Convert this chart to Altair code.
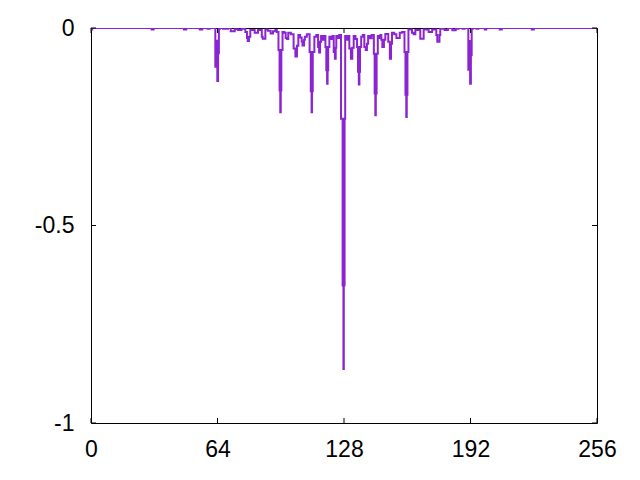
import altair as alt
import pandas as pd

# Step-after breakpoints of the curve (x, value held until next x)
xs = [0, 0.6, 30.7, 31.7, 47.0, 48.2, 55.0, 56.3, 59.0, 60.0,
      62.9, 63.4, 63.9, 64.3, 64.7, 65.2, 66.8, 67.6, 68.5, 69.3,
      70.7, 72.7, 74.4, 76.1, 78.1, 78.9, 79.3, 79.9, 80.6, 82.8,
      84.5, 86.4, 86.9, 88.2, 89.5, 90.9, 92.1, 93.3, 94.0,
      94.85, 95.4, 95.75, 96.0, 96.3, 96.9, 97.8, 98.5, 99.2, 99.8,
      101.1, 102.5, 103.4, 104.2, 104.9, 105.8, 106.6, 107.0, 107.8, 108.2,
      109.2, 110.6, 111.2, 111.6, 111.8, 112.2, 113.0, 114.0, 114.9, 115.4,
      115.9, 116.4, 117.2, 117.8, 118.6, 119.05, 119.45, 119.7, 120.0, 120.6,
      121.5, 122.2, 122.8, 123.4, 123.8, 124.1, 125.0, 125.6,
      126.5, 127.3, 127.7, 127.9, 128.3, 128.6, 129.5, 130.0,
      130.7, 131.5, 132.2, 132.9, 133.8, 134.6, 135.1, 135.5, 135.8, 136.1,
      136.7, 137.5, 138.3, 139.0, 139.6, 140.2, 141.2, 142.0,
      143.1, 143.5, 143.85, 144.1, 144.5, 145.1, 145.6, 146.4, 146.9, 147.4,
      148.2, 148.9, 150.4, 151.2, 151.8, 152.3, 153.4, 154.5, 156.2, 157.4,
      158.6, 159.1, 159.5, 159.75, 160.1, 160.6, 162.4, 163.2, 164.1, 166.6,
      168.3, 170.8, 172.6, 174.7, 175.2, 176.3, 176.7, 178.9, 180.6, 182.8,
      184.5, 186.0, 188.0, 189.0, 190.9, 191.3, 191.8, 192.2, 192.6, 193.2,
      195.0, 196.0, 199.2, 200.0, 206.8, 207.8, 223.0, 224.0, 256]
ys = [-0.004, 0, -0.004, 0, -0.004, 0, -0.004, 0, -0.002, 0,
      -0.098, -0.032, -0.134, -0.064, -0.002, 0, -0.002, 0, -0.002, 0,
      -0.008, -0.003, -0.005, -0.002, -0.01, -0.025, -0.033, -0.022, -0.005, -0.012,
      -0.005, -0.022, -0.027, -0.004, -0.007, -0.014, -0.008, -0.005, -0.01,
      -0.056, -0.158, -0.213, -0.158, -0.056, -0.01, -0.012, -0.025, -0.028, -0.012,
      -0.016, -0.052, -0.072, -0.045, -0.018, -0.024, -0.034, -0.044, -0.03, -0.022,
      -0.016, -0.061, -0.16, -0.213, -0.16, -0.061, -0.022, -0.018, -0.048, -0.062,
      -0.035, -0.02, -0.03, -0.02, -0.048, -0.107, -0.141, -0.107, -0.048, -0.022,
      -0.028, -0.02, -0.061, -0.078, -0.05, -0.02, -0.025, -0.018,
      -0.23, -0.651, -0.863, -0.651, -0.23, -0.02, -0.03, -0.02,
      -0.052, -0.078, -0.05, -0.02, -0.028, -0.048, -0.111, -0.143, -0.111, -0.048,
      -0.022, -0.018, -0.048, -0.056, -0.04, -0.02, -0.026, -0.018,
      -0.065, -0.166, -0.221, -0.166, -0.065, -0.02, -0.025, -0.018, -0.03, -0.048,
      -0.03, -0.015, -0.035, -0.078, -0.04, -0.012, -0.016, -0.025, -0.012, -0.01,
      -0.061, -0.169, -0.225, -0.169, -0.061, -0.004, -0.012, -0.016, -0.005, -0.027,
      -0.004, -0.01, -0.004, -0.018, -0.035, -0.018, -0.002, -0.005, 0, -0.006,
      -0.002, 0, -0.002, 0, -0.106, -0.033, -0.141, -0.069, -0.002, 0,
      -0.002, 0, -0.004, 0, -0.004, 0, -0.004, 0, 0]

x_ticks = [0, 64, 128, 192, 256]
y_ticks = [-1, -0.5, 0]

W, H = 506, 395
FONT = "Liberation Sans"
FS = 23

df = pd.DataFrame({"x": xs, "y": ys, "i": list(range(len(xs)))})
xt = pd.DataFrame({"t": x_ticks})
yt = pd.DataFrame({"t": y_ticks})

xscale = alt.Scale(domain=[0, 256], nice=False, zero=False)
yscale = alt.Scale(domain=[-1, 0], nice=False, zero=False)

line = alt.Chart(df).mark_line(
    interpolate="step-after", color="#8B25D2", strokeWidth=2, clip=True
).encode(
    x=alt.X("x:Q", scale=xscale, title=None,
            axis=alt.Axis(values=x_ticks, ticks=False, domain=False, grid=False,
                          labelExpr="'' + datum.value", labelFont=FONT,
                          labelFontSize=FS, labelColor="black", labelPadding=15,
                          labelFlush=False)),
    y=alt.Y("y:Q", scale=yscale, title=None,
            axis=alt.Axis(values=y_ticks, ticks=False, domain=False, grid=False,
                          labelExpr="'' + datum.value", labelFont=FONT,
                          labelFontSize=FS, labelColor="black", labelPadding=17,
                          labelFlush=False)),
    order="i:Q",
)

tb = alt.Chart(xt).mark_rule(color="black", strokeWidth=1).encode(
    x=alt.X("t:Q", scale=xscale), y=alt.value(H), y2=alt.value(H - 5))
tt = alt.Chart(xt).mark_rule(color="black", strokeWidth=1).encode(
    x=alt.X("t:Q", scale=xscale), y=alt.value(0), y2=alt.value(5))
tl = alt.Chart(yt).mark_rule(color="black", strokeWidth=1).encode(
    y=alt.Y("t:Q", scale=yscale), x=alt.value(0), x2=alt.value(5))
tr = alt.Chart(yt).mark_rule(color="black", strokeWidth=1).encode(
    y=alt.Y("t:Q", scale=yscale), x=alt.value(W), x2=alt.value(W - 5))

chart = alt.layer(line, tb, tt, tl, tr).properties(
    width=W, height=H,
    autosize=alt.AutoSizeParams(type="none"),
    padding={"left": 83, "top": 20, "right": 30, "bottom": 50},
    background="white",
).configure_view(stroke="black", strokeWidth=1)

chart.save("out.html", embed_options={"renderer": "svg", "actions": False})
